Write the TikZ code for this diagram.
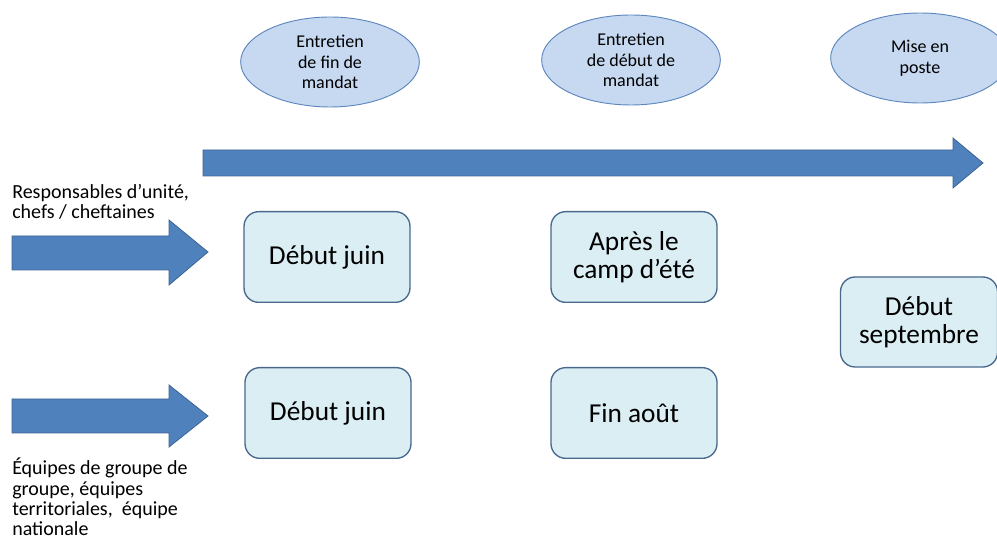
\documentclass[tikz,border=0pt]{standalone}
\usepackage{fontspec}
\setmainfont{Carlito}
\usetikzlibrary{shapes.geometric}
\usetikzlibrary{positioning}

\definecolor{ellfill}{RGB}{198,217,241}
\definecolor{elldraw}{RGB}{95,135,190}
\definecolor{boxfill}{RGB}{219,238,244}
\definecolor{boxdraw}{RGB}{72,104,140}
\definecolor{arrfill}{RGB}{79,129,189}
\definecolor{arrdraw}{RGB}{62,100,148}

\tikzset{
  stage/.style={ellipse,draw=elldraw,fill=ellfill,line width=0.7pt,minimum width=134pt,minimum height=67.5pt,inner sep=0pt,align=center,font=\fontsize{13.5}{15.4}\selectfont},
  datebox/.style={rectangle,rounded corners=11pt,draw=boxdraw,fill=boxfill,line width=1pt,minimum width=124.5pt,minimum height=68pt,inner sep=0pt,align=center,font=\fontsize{20.5}{21}\selectfont},
  blockarrow/.style={fill=arrfill,draw=arrdraw,line width=0.6pt},
  sidelabel/.style={align=left,inner sep=0pt,font=\fontsize{15}{15.2}\selectfont}
}

\begin{document}
\begin{tikzpicture}[x=0.75pt,y=-0.75pt]
\useasboundingbox (0,0) rectangle (997,541);

% time line
\draw[blockarrow] (203,150) -- (953,150) -- (953,138) -- (983,163) -- (953,188) -- (953,176) -- (203,176) -- cycle;

\node[stage] (finmandat) at (330,62) {Entretien\\de fin de\\mandat};
\node[stage] (debutmandat) at (631,60) {Entretien\\de début de\\mandat};
\node[stage] (poste) at (920,58) {Mise en\\poste};

% first row
\node[sidelabel,anchor=west] (resp) at (12,202) {Responsables d’unité,\\chefs / cheftaines};
\draw[blockarrow] (12,236) -- (169,236) -- (169,220) -- (208,252) -- (169,285) -- (169,270) -- (12,270) -- cycle;
\node[datebox] (juinA) at (327,257) {Début juin};
\node[datebox] (apres) at (634,257) {Après le\\camp d’été};

% second row
\draw[blockarrow] (12,399) -- (169,399) -- (169,385) -- (208,416) -- (169,447) -- (169,433) -- (12,433) -- cycle;
\node[datebox] (juinB) at (328,413) {Début juin};
\node[datebox] (aout) at (634,413) {Fin août};
\node[sidelabel,anchor=south west] (equipes) at (12,536) {Équipes de groupe de\\groupe, équipes\\territoriales,\ \ équipe\\nationale};

\node[datebox,minimum width=117.75pt,minimum height=67.5pt] (sept) at (919,322) {Début\\septembre};

\end{tikzpicture}
\end{document}
